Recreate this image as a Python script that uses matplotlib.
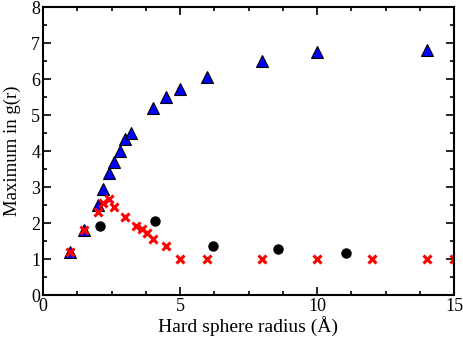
import matplotlib
matplotlib.use("Agg")
import matplotlib.pyplot as plt
from matplotlib.ticker import MultipleLocator

# Triangles (blue)
tri_x = [1, 1.5, 2, 2.2, 2.4, 2.6, 2.8, 3.0, 3.2, 4.0, 4.5, 5, 6, 8, 10, 14]
tri_y = [1.2, 1.8, 2.5, 2.95, 3.4, 3.7, 4.0, 4.33, 4.5, 5.2, 5.5, 5.73, 6.06, 6.5, 6.75, 6.8]

# Crosses (red)
cross_x = [1, 1.5, 2, 2.2, 2.4, 2.6, 3.0, 3.4, 3.6, 3.8, 4.0, 4.5, 5, 6, 8, 10, 12, 14, 15]
cross_y = [1.2, 1.8, 2.3, 2.55, 2.67, 2.45, 2.18, 1.92, 1.82, 1.71, 1.56, 1.35, 1.0, 1.0, 1.0, 1.0, 1.0, 1.0, 1.0]

# Circles (black)
circ_x = [2.07, 4.08, 6.2, 8.56, 11.06]
circ_y = [1.92, 2.05, 1.36, 1.27, 1.16]

plt.rcParams['font.family'] = ['Liberation Serif', 'DejaVu Serif']

fig = plt.figure(figsize=(4.63, 3.4), dpi=100)
ax = fig.add_axes([43 / 463, 1 - 295 / 340, 411 / 463, 288 / 340])

ax.plot(tri_x, tri_y, linestyle='none', marker='^', markersize=9,
        markerfacecolor='#0000ff', markeredgecolor='black', markeredgewidth=0.8)
ax.plot(circ_x, circ_y, linestyle='none', marker='o', markersize=6.5,
        color='black')
ax.plot(cross_x, cross_y, linestyle='none', marker='x', markersize=5.2,
        markeredgewidth=2.2, color='#ff0000')

ax.set_xlim(0, 15)
ax.set_ylim(0, 8)
ax.xaxis.set_major_locator(MultipleLocator(5))
ax.xaxis.set_minor_locator(MultipleLocator(1.25))
ax.yaxis.set_major_locator(MultipleLocator(1))
ax.yaxis.set_minor_locator(MultipleLocator(0.5))
ax.tick_params(which='both', direction='in', top=True, right=True,
               labelsize=13, width=1.2, pad=2)
ax.tick_params(which='major', length=6)
ax.tick_params(which='minor', length=3)
for s in ax.spines.values():
    s.set_linewidth(1.5)

ax.set_xlabel('Hard sphere radius (Å)', fontsize=14, labelpad=1)
ax.set_ylabel('Maximum in g(r)', fontsize=13.5, labelpad=7)

fig.savefig('out.png', dpi=100)
